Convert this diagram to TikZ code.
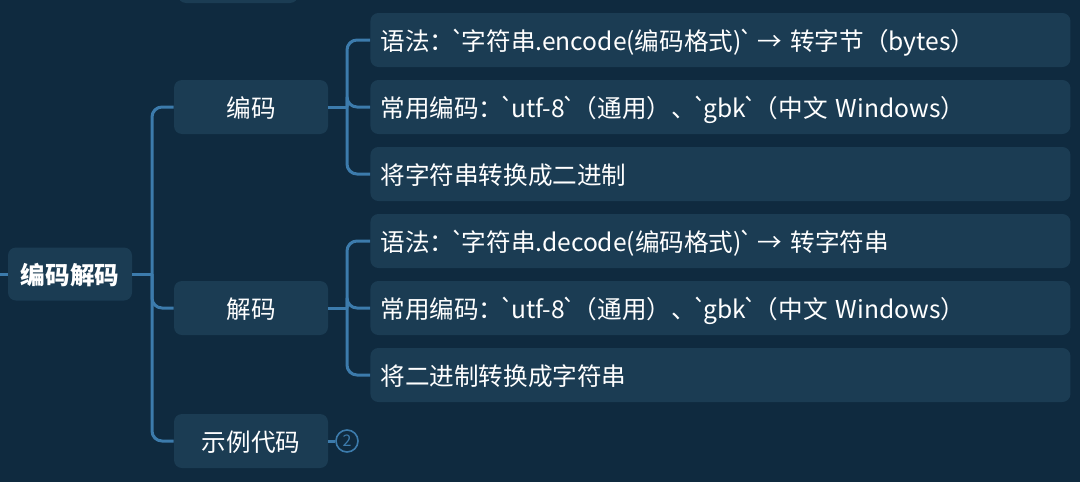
\documentclass[tikz,border=0pt]{standalone}
\usepackage{fontspec}
\newfontfamily\cjk{Noto Sans CJK SC}
\usetikzlibrary{positioning}

\definecolor{bgnavy}{HTML}{0F2A3F}
\definecolor{nodefill}{HTML}{1B3C53}
\definecolor{linkblue}{HTML}{3C7BAC}

% narrow backtick
\newcommand\tick{\kern-1.8pt`\kern-1.8pt}

\begin{document}
\begin{tikzpicture}[
    x=0.5pt, y=-0.5pt,
    font=\cjk\fontsize{12.3}{14}\selectfont,
    topic/.style={fill=nodefill, rounded corners=4pt, text=white, align=center, inner sep=0pt, text depth=0pt, minimum width=77pt, minimum height=27pt},
    root/.style={topic, font=\cjk\fontsize{12.3}{14}\selectfont\bfseries, minimum width=62pt, minimum height=26.5pt},
    leaf/.style={fill=nodefill, rounded corners=4pt, text=white, anchor=west, align=left, inner xsep=5pt, inner ysep=0pt, text depth=0pt, text width=340pt, minimum height=27pt},
    badge/.style={circle, draw=linkblue, line width=0.8pt, text=linkblue, inner sep=0pt, minimum size=11pt, font=\cjk\fontsize{8}{8}\selectfont},
    link/.style={draw=linkblue, line width=1.5pt},
    branch/.style={link, rounded corners=5pt}
  ]
    \fill[bgnavy] (0,0) rectangle (1080,482);
    \useasboundingbox (0,0) rectangle (1080,482);
    \clip (0,0) rectangle (1080,482);

    \node[topic, minimum width=60pt] (prev) at (238,-24) {};
    \node[root] (root) at (70,274) {编码解码};
    \node[topic] (enc) at (251,107) {编码};
    \node[topic] (dec) at (251,308) {解码};
    \node[topic] (demo) at (251,441) {示例代码};
    \node[badge] (count) at (347,441) {2};

    \node[leaf] (encsyn) at (370,40) {语法：\tick 字符串.encode(编码格式)\tick{} → 转字节（bytes）};
    \node[leaf] (enccommon) at (370,107) {常用编码：\tick utf-8\tick（通用）、\tick gbk\tick（中文 Windows）};
    \node[leaf] (encdesc) at (370,174) {将字符串转换成二进制};
    \node[leaf] (decsyn) at (370,241) {语法：\tick 字符串.decode(编码格式)\tick{} → 转字符串};
    \node[leaf] (deccommon) at (370,308) {常用编码：\tick utf-8\tick（通用）、\tick gbk\tick（中文 Windows）};
    \node[leaf] (decdesc) at (370,375) {将二进制转换成字符串};

    \coordinate (in) at (-10,274);
    \coordinate (rj) at (152,274);
    \coordinate (ej) at (347,107);
    \coordinate (dj) at (347,308);

    \draw[link] (in) -- (root.west);
    \draw[link] (root.east) -- (rj);
    \draw[branch] (rj) |- (enc.west);
    \draw[branch] (rj) |- (dec.west);
    \draw[branch] (rj) |- (demo.west);
    \draw[link] (demo.east) -- (count.west);

    \draw[link] (enc.east) -- (ej);
    \draw[branch] (ej) |- (encsyn.west);
    \draw[branch] (ej) |- (enccommon.west);
    \draw[branch] (ej) |- (encdesc.west);
    \draw[link] (dec.east) -- (dj);
    \draw[branch] (dj) |- (decsyn.west);
    \draw[branch] (dj) |- (deccommon.west);
    \draw[branch] (dj) |- (decdesc.west);
  \end{tikzpicture}
\end{document}
